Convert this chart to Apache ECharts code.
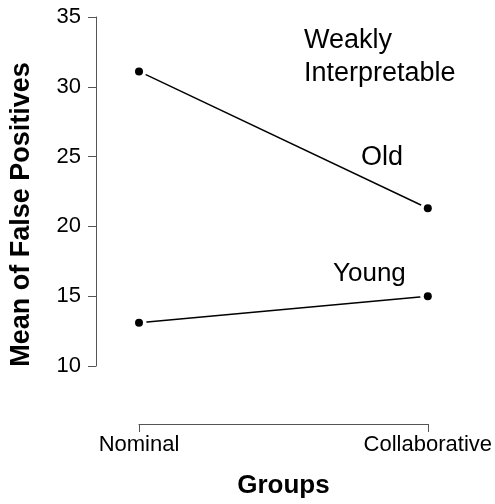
<!DOCTYPE html>
<html>
<head>
<meta charset="utf-8">
<script src="https://cdn.jsdelivr.net/npm/echarts@6/dist/echarts.min.js"></script>
<style>
html,body{margin:0;padding:0;background:#fff;}
#chart{width:495px;height:504px;}
</style>
</head>
<body>
<div id="chart"></div>
<script>
var groups = ['Nominal', 'Collaborative'];
var oldValues = [31.1, 21.3];
var youngValues = [13.1, 15.0];
var yTicks = [10, 15, 20, 25, 30, 35];
var annotations = ['Weakly\nInterpretable', 'Old', 'Young'];

var FONT = '"Liberation Sans", Arial, Helvetica, sans-serif';
var chart = echarts.init(document.getElementById('chart'), null, {renderer: 'canvas'});

function lineSeries(name, vals) {
  return {
    name: name, type: 'line', data: vals, symbol: 'none', z: 2,
    lineStyle: {color: '#000', width: 1.4}, silent: true, animation: false
  };
}
function halo(vals) {
  return {type: 'scatter', data: vals, symbol: 'circle', symbolSize: 15, z: 3,
    itemStyle: {color: '#fff', opacity: 1}, silent: true, animation: false};
}
function dots(vals) {
  return {type: 'scatter', data: vals, symbol: 'circle', symbolSize: 8, z: 4,
    itemStyle: {color: '#000', opacity: 1}, silent: true, animation: false};
}

chart.setOption({
  backgroundColor: '#fff',
  animation: false,
  grid: {left: 138, right: 67, top: 17, bottom: 136, containLabel: false},
  xAxis: {
    type: 'category', data: groups, boundaryGap: false, offset: 58,
    axisLine: {show: true, lineStyle: {color: '#555', width: 1}},
    axisTick: {show: true, inside: false, length: 8, lineStyle: {color: '#555'}},
    axisLabel: {show: true, margin: 10, color: '#000', fontSize: 22, fontFamily: FONT},
    splitLine: {show: false},
    name: 'Groups', nameLocation: 'middle', nameGap: 49,
    nameTextStyle: {fontSize: 26, fontWeight: 'bold', color: '#000', fontFamily: FONT}
  },
  yAxis: {
    type: 'value', min: yTicks[0], max: yTicks[yTicks.length - 1], interval: 5, offset: 43,
    axisLine: {show: true, lineStyle: {color: '#555', width: 1}},
    axisTick: {show: true, inside: false, length: 8, lineStyle: {color: '#555'}},
    axisLabel: {show: true, margin: 15, color: '#000', fontSize: 22, fontFamily: FONT},
    splitLine: {show: false},
    name: 'Mean of False Positives', nameLocation: 'middle', nameGap: 61,
    nameTextStyle: {fontSize: 27, fontWeight: 'bold', color: '#000', fontFamily: FONT,
      padding: [0, 46, 0, 0]}
  },
  graphic: [
    {type: 'text', left: 304, top: 24, silent: true,
      style: {text: annotations[0], font: '27px ' + FONT, fill: '#000', lineHeight: 33}},
    {type: 'text', left: 361, top: 144, silent: true,
      style: {text: annotations[1], font: '27px ' + FONT, fill: '#000'}},
    {type: 'text', left: 333, top: 261, silent: true,
      style: {text: annotations[2], font: '26px ' + FONT, fill: '#000'}}
  ],
  series: [
    lineSeries('Old', oldValues),
    lineSeries('Young', youngValues),
    halo(oldValues), halo(youngValues),
    dots(oldValues), dots(youngValues)
  ]
});
</script>
</body>
</html>
